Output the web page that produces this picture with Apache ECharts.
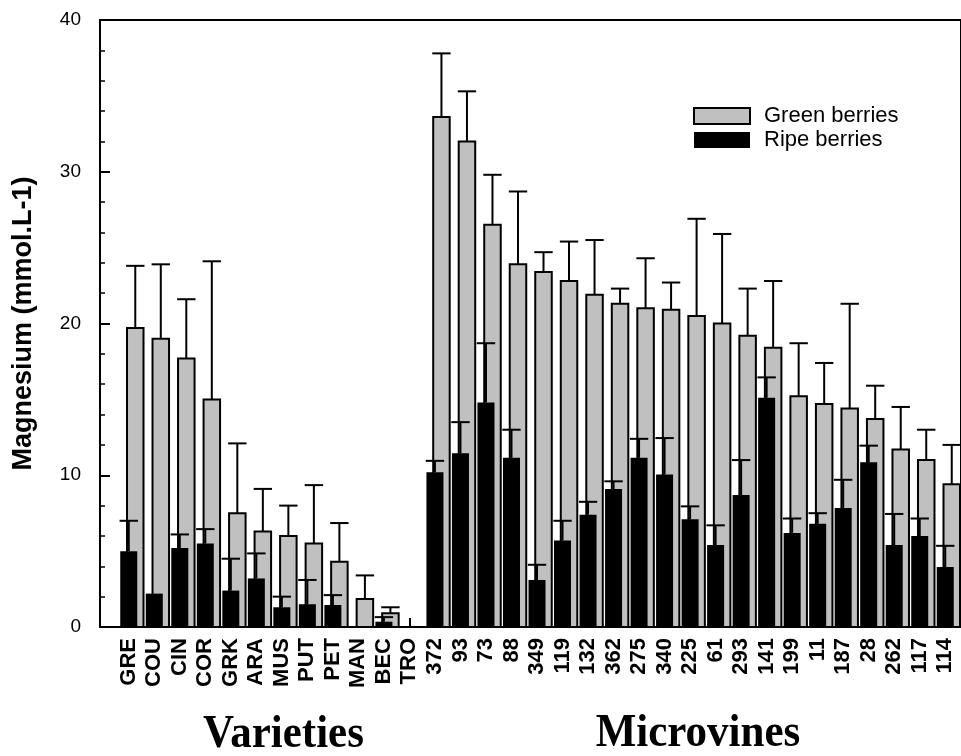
<!DOCTYPE html>
<html>
<head>
<meta charset="utf-8">
<script src="https://cdn.jsdelivr.net/npm/echarts@6/dist/echarts.min.js"></script>
<style>
html,body{margin:0;padding:0;background:#fff;}
#chart{width:961px;height:756px;}
</style>
</head>
<body>
<div id="chart"></div>
<script>
const categories = ['GRE','COU','CIN','COR','GRK','ARA','MUS','PUT','PET','MAN','BEC','TRO',
  '372','93','73','88','349','119','132','362','275','340','225','61','293','141','199','11','187','28','262','117','114'];

const greenMean = [19.7,19.0,17.7,15.0,7.5,6.3,6.0,5.5,4.3,1.85,0.9,null,
  33.6,32.0,26.5,23.9,23.4,22.8,21.9,21.3,21.0,20.9,20.5,20.0,19.2,18.4,15.2,14.7,14.4,13.7,11.7,11.0,9.4];
const greenSD = [4.1,4.9,3.9,9.1,4.6,2.8,2.0,3.85,2.55,1.55,0.4,null,
  4.2,3.3,3.3,4.8,1.3,2.6,3.6,1.0,3.3,1.8,6.4,5.9,3.1,4.4,3.5,2.7,6.9,2.2,2.8,2.0,2.6];

const ripeMean = [5.0,2.2,5.2,5.5,2.4,3.2,1.3,1.5,1.45,0,0.35,null,
  10.2,11.45,14.8,11.15,3.1,5.7,7.4,9.1,11.15,10.05,7.1,5.4,8.7,15.1,6.2,6.8,7.85,10.85,5.4,6.0,3.95];
const ripeSD = [2.0,null,0.9,0.95,2.1,1.65,0.7,1.6,0.65,null,0.3,null,
  0.75,2.05,3.9,1.85,1.0,1.3,0.85,0.5,1.25,2.4,0.85,1.3,2.3,1.35,0.95,0.7,1.85,1.1,2.05,1.15,1.4];

const yTicks = [0,10,20,30,40];
const groupTitles = ['Varieties','Microvines'];

function toData(mean, sd){
  return mean.map((v,i)=>[i, v==null?NaN:v, sd[i]==null?NaN:sd[i]]);
}

function makeRender(offsetFrac, widthFrac, fill, stroke){
  return function(params, api){
    const i = api.value(0), v = api.value(1), sd = api.value(2);
    if (isNaN(v)) return;
    const bw = api.size([1,0])[0];
    const base = api.coord([i,0]);
    const top = api.coord([i,v]);
    const cx = base[0] + offsetFrac*bw;
    const w = widthFrac*bw;
    const children = [];
    if (v > 0) {
      children.push({
        type:'rect',
        shape:{x:cx-w/2, y:top[1], width:w, height:base[1]-top[1]},
        style:{fill:fill, stroke:stroke, lineWidth: stroke ? 2 : 0}
      });
    }
    if (!isNaN(sd) && sd > 0) {
      const et = api.coord([i, v+sd]);
      const cw = 0.36*bw;
      children.push({type:'line', shape:{x1:cx,y1:top[1],x2:cx,y2:et[1]}, style:{stroke:'#000',lineWidth:2}});
      children.push({type:'line', shape:{x1:cx-cw,y1:et[1],x2:cx+cw,y2:et[1]}, style:{stroke:'#000',lineWidth:2}});
    }
    return {type:'group', children};
  };
}

const chart = echarts.init(document.getElementById('chart'));
const FONT = 'Liberation Sans, Arial, sans-serif';
const SERIF = 'Liberation Serif, Times New Roman, serif';
chart.setOption({
  animation:false,
  backgroundColor:'#fff',
  grid:[
    {left:100, right:-10, top:20, bottom:129, show:true, borderColor:'#000', borderWidth:2},
    {left:116, right:3, top:20, bottom:129}
  ],
  legend:{
    orient:'vertical', left:693, top:105, itemWidth:56, itemHeight:16, itemGap:2, padding:0,
    icon:'rect',
    textStyle:{fontFamily:FONT, fontSize:22, color:'#000', padding:[0,0,0,9]},
    data:[
      {name:'Green berries', itemStyle:{color:'#c0c0c0', borderColor:'#000', borderWidth:2}},
      {name:'Ripe berries', itemStyle:{color:'#000'}}
    ]
  },
  xAxis:[
    {type:'value', gridIndex:0, min:0, max:1, axisLine:{show:true,lineStyle:{color:'#000',width:2}},
     axisTick:{show:false}, axisLabel:{show:false}, splitLine:{show:false}},
    {type:'category', gridIndex:1, data:categories, boundaryGap:true,
     axisLine:{show:false},
     axisTick:{show:true, inside:true, alignWithLabel:true, length:9, lineStyle:{color:'#000',width:2}},
     axisLabel:{interval:0, rotate:90, margin:11, fontFamily:FONT, fontWeight:'bold', fontSize:22, color:'#000'},
     splitLine:{show:false}}
  ],
  yAxis:[
    {type:'value', gridIndex:0, min:0, max:40, interval:10,
     axisLine:{show:true, lineStyle:{color:'#000',width:2}},
     axisTick:{show:true, inside:true, length:10, lineStyle:{color:'#000',width:2}},
     minorTick:{show:true, splitNumber:5, length:5, lineStyle:{color:'#000',width:1.5}},
     axisLabel:{fontFamily:FONT, fontSize:19, color:'#000', margin:19,
       formatter:(v)=> yTicks.includes(v) ? String(v) : ''},
     splitLine:{show:false},
     name:'Magnesium (mmol.L-1)', nameLocation:'middle', nameGap:63,
     nameTextStyle:{fontFamily:FONT, fontWeight:'bold', fontSize:27, color:'#000'}},
    {type:'value', gridIndex:1, min:0, max:40, show:false}
  ],
  graphic:[
    {type:'text', x:283.5, y:735, scaleY:1.1,
     style:{text:groupTitles[0], fontFamily:SERIF, fontWeight:'bold', fontSize:43, fill:'#000', textAlign:'center', textVerticalAlign:'middle'}},
    {type:'text', x:698, y:734, scaleY:1.1,
     style:{text:groupTitles[1], fontFamily:SERIF, fontWeight:'bold', fontSize:43, fill:'#000', textAlign:'center', textVerticalAlign:'middle'}}
  ],
  series:[
    {name:'Green berries', type:'custom', xAxisIndex:1, yAxisIndex:1, z:2,
     itemStyle:{color:'#c0c0c0', borderColor:'#000'},
     encode:{x:0, y:1},
     renderItem: makeRender(0.255, 0.647, '#c0c0c0', '#000'),
     data: toData(greenMean, greenSD)},
    {name:'Ripe berries', type:'custom', xAxisIndex:1, yAxisIndex:1, z:3,
     itemStyle:{color:'#000'},
     encode:{x:0, y:1},
     renderItem: makeRender(0, 0.667, '#000', null),
     data: toData(ripeMean, ripeSD)}
  ]
});
</script>
</body>
</html>
